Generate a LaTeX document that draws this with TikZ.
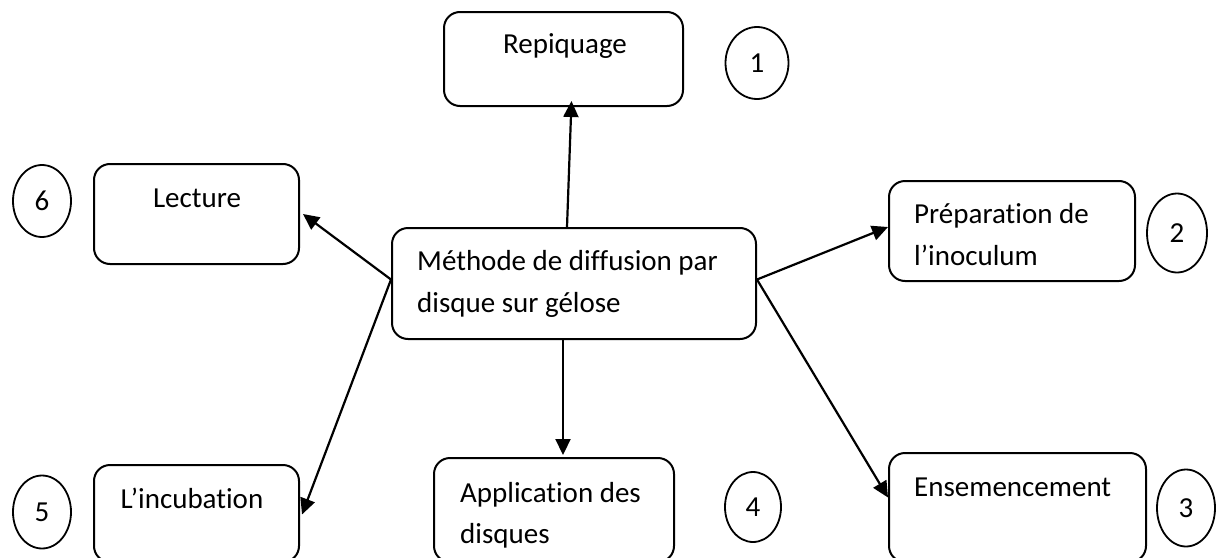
\documentclass[tikz,border=0pt]{standalone}
\usepackage{fontspec}
\setmainfont[Ligatures=NoCommon]{Carlito}
\usetikzlibrary{arrows.meta,shapes.geometric}
\begin{document}
\begin{tikzpicture}[x=1pt,y=-1pt,
  box/.style={draw,line width=2pt,rounded corners=16pt,minimum width=#1,inner sep=0pt},
  num/.style={draw,ellipse,line width=1.8pt,inner sep=0pt,font=\fontsize{29}{35}\selectfont},
  lbl/.style={font=\fontsize{29}{35}\selectfont,inner sep=0pt},
  arr/.style={line width=2.2pt,-{Triangle[length=16pt,width=15pt]}}]
\useasboundingbox (0,0) rectangle (1221,557);
\clip (0,0) rectangle (1221,557);
% boxes
\node[box=239pt,minimum height=94pt] (rep) at (563.5,59) {};
\node[box=205pt,minimum height=100pt] (lec) at (196.5,214) {};
\node[box=364pt,minimum height=111pt] (cen) at (574,283.5) {};
\node[box=246pt,minimum height=100pt] (prep) at (1012,231) {};
\node[box=205pt,minimum height=97pt] (inc) at (196.5,513.5) {};
\node[box=240pt,minimum height=104pt] (app) at (554,510) {};
\node[box=257pt,minimum height=109pt] (ens) at (1017.5,507.5) {};
% texts
\node[lbl,anchor=base] (trep) at (565,53) {Repiquage};
\node[lbl,anchor=base] (tlec) at (197,207) {Lecture};
\node[lbl,anchor=base] (tinc) at (192,508) {L’incubation};
\node[lbl,anchor=base west] (tcen1) at (417,270) {Méthode de diffusion par};
\node[lbl,anchor=base west] (tcen2) at (417,312) {disque sur gélose};
\node[lbl,anchor=base west] (tprep1) at (914,223) {Préparation de};
\node[lbl,anchor=base west] (tprep2) at (914,265) {l’inoculum};
\node[lbl,anchor=base west] (tens) at (914,496) {Ensemencement};
\node[lbl,anchor=base west] (tapp1) at (460,502) {Application des};
\node[lbl,anchor=base west] (tapp2) at (460,543) {disques};
% numbers
\node[num,minimum width=63pt,minimum height=72pt] (c1) at (757,63) {1};
\node[num,minimum width=60pt,minimum height=79pt] (c2) at (1177,233) {2};
\node[num,minimum width=58pt,minimum height=77pt] (c3) at (1186,508) {3};
\node[num,minimum width=56pt,minimum height=70pt] (c4) at (753,507) {4};
\node[num,minimum width=58pt,minimum height=73pt] (c5) at (42,512) {5};
\node[num,minimum width=58pt,minimum height=72pt] (c6) at (42,201) {6};
% arrows
\draw[arr] ([xshift=-7pt]cen.north) -- ([xshift=8pt,yshift=6pt]rep.south);
\draw[arr] ([yshift=4pt]cen.west) -- ([xshift=3pt]lec.east);
\draw[arr] ([yshift=4pt]cen.west) -- ([xshift=2pt,yshift=-1pt]inc.east);
\draw[arr] ([xshift=-11pt]cen.south) -- ([xshift=9pt,yshift=2pt]app.north);
\draw[arr] ([yshift=4pt]cen.east) -- ([yshift=4pt]prep.west);
\draw[arr] ([yshift=4pt]cen.east) -- ([yshift=10pt]ens.west);
\end{tikzpicture}
\end{document}
